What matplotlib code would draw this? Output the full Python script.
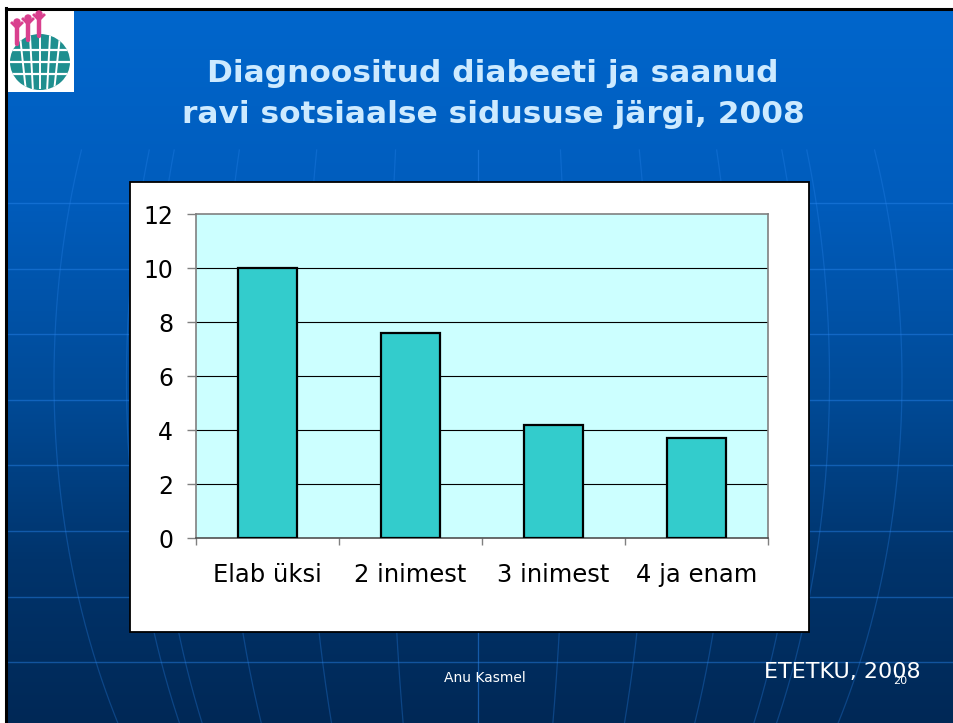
import numpy as np
import matplotlib
matplotlib.use("Agg")
import matplotlib.pyplot as plt
from matplotlib.patches import Rectangle, Ellipse, Circle

# chart data
categories = ["Elab üksi", "2 inimest", "3 inimest", "4 ja enam"]
values = [10.0, 7.6, 4.2, 3.7]
y_ticks = [0, 2, 4, 6, 8, 10, 12]

title_lines = ["Diagnoositud diabeeti ja saanud", "ravi sotsiaalse sidususe järgi, 2008"]
author = "Anu Kasmel"
source = "ETETKU, 2008"
page_no = "20"

W, H = 954, 723
fig = plt.figure(figsize=(W / 100, H / 100), dpi=100)
fig.patch.set_facecolor("white")

# background slide in pixel coords
bg = fig.add_axes([0, 0, 1, 1])
bg.set_xlim(0, W)
bg.set_ylim(H, 0)
bg.axis("off")

# vertical gradient of the slide
stops_y = np.array([10, 200, 400, 560, 723])
stops_c = np.array([[0, 102, 204], [0, 92, 188], [0, 74, 150], [0, 52, 108], [0, 40, 86]]) / 255
ys = np.linspace(10, 723, 400)
grad = np.stack([np.interp(ys, stops_y, stops_c[:, i]) for i in range(3)], axis=-1)
grad = np.repeat(grad[:, None, :], 2, axis=1)
bg.imshow(grad, extent=(8, W, H, 10), aspect="auto", zorder=0)

# globe lines (faint)
line_col = "#2a86ee"
for y in np.arange(203, 670, 65.6):
    bg.plot([8, W], [y, y], color=line_col, lw=1.0, alpha=0.45, zorder=1)
cx, cy, b = 478, 380, 650
yy = np.linspace(150, 723, 200)
fac = np.sqrt(np.clip(1 - ((yy - cy) / b) ** 2, 0, None))
for lon in [0, 12, 24, 37, 50, 56, 90]:
    a = 424 * np.sin(np.radians(lon))
    for sgn in (-1, 1):
        bg.plot(cx + sgn * a * fac, yy, color=line_col, lw=0.9, alpha=0.3, zorder=1)

# slide frame
bg.plot([6.5, 6.5], [8, H], color="black", lw=2.2, zorder=5)
bg.plot([6, W], [8.5, 8.5], color="black", lw=2.2, zorder=5)

# logo
bg.add_patch(Rectangle((8, 10), 66, 82, facecolor="white", edgecolor="none", zorder=3))
globe = Ellipse((40, 62), 60, 56, facecolor="#1f8f8f", edgecolor="none", zorder=4)
bg.add_patch(globe)
for gy in [50, 62, 74]:
    ln, = bg.plot([10, 72], [gy, gy], color="white", lw=1.6, zorder=4.5)
    ln.set_clip_path(globe)
for gx in [24, 32, 40, 48, 56]:
    ln, = bg.plot([gx + (gx - 40) * 0.25, gx - (gx - 40) * 0.1], [36, 88], color="white", lw=1.4, zorder=4.5)
    ln.set_clip_path(globe)
pink = "#d9408e"
for hx, hy in [(17, 22), (28, 18), (39, 14)]:
    bg.add_patch(Circle((hx, hy), 3.0, color=pink, zorder=6))
    bg.plot([hx, hx], [hy + 4, hy + 22], color=pink, lw=3.2, zorder=6, solid_capstyle="round")
    bg.plot([hx - 5, hx, hx + 5], [hy + 1, hy + 6, hy + 1], color=pink, lw=2, zorder=6)

# title
title_col = "#cdeaff"
for line, base in zip(title_lines, [82, 123]):
    bg.text(493, base, line, ha="center", va="baseline", fontsize=22.5,
            fontweight="bold", color=title_col, family="DejaVu Sans", zorder=6)

# footer
bg.text(485, 682, author, ha="center", va="baseline", fontsize=10, color="white",
        family="DejaVu Sans", zorder=6)
bg.text(921, 678, source, ha="right", va="baseline", fontsize=16, color="white",
        family="DejaVu Sans", zorder=6)
bg.text(900, 684, page_no, ha="center", va="baseline", fontsize=8, color="white",
        family="DejaVu Sans", zorder=6)

# white chart box
bg.add_patch(Rectangle((130, 182), 679, 450, facecolor="white", edgecolor="black",
                       lw=1.3, zorder=7))

# bar chart
ax = fig.add_axes([196 / W, 1 - 538 / H, 572 / W, 324 / H])
ax.set_facecolor("#ccffff")
x = np.arange(len(categories))
ax.bar(x, values, width=0.41, color="#33cccc", edgecolor="black", linewidth=1.6, zorder=3)
ax.set_xlim(-0.5, len(categories) - 0.5)
ax.set_ylim(0, 12)
ax.set_yticks(y_ticks)
ax.set_yticklabels([str(t) for t in y_ticks], fontsize=17, family="DejaVu Sans")
ax.set_xticks(x)
ax.set_xticklabels(categories, fontsize=17.5, family="DejaVu Sans")
ax.set_xticks(np.arange(-0.5, len(categories)), minor=True)
ax.tick_params(axis="x", which="major", length=0, pad=18)
ax.tick_params(axis="x", which="minor", length=5, width=1, color="#808080", direction="out")
ax.tick_params(axis="y", length=6.5, width=1, color="#808080", pad=10)
ax.set_axisbelow(True)
ax.yaxis.grid(True, color="black", linewidth=0.8)
ax.get_ygridlines()[-1].set_visible(False)
ax.get_ygridlines()[0].set_visible(False)
for side in ["left", "top", "right"]:
    ax.spines[side].set_color("#808080")
    ax.spines[side].set_linewidth(1.2)
ax.spines["bottom"].set_color("#505050")
ax.spines["bottom"].set_linewidth(1.2)

fig.savefig("out.png", dpi=100)
